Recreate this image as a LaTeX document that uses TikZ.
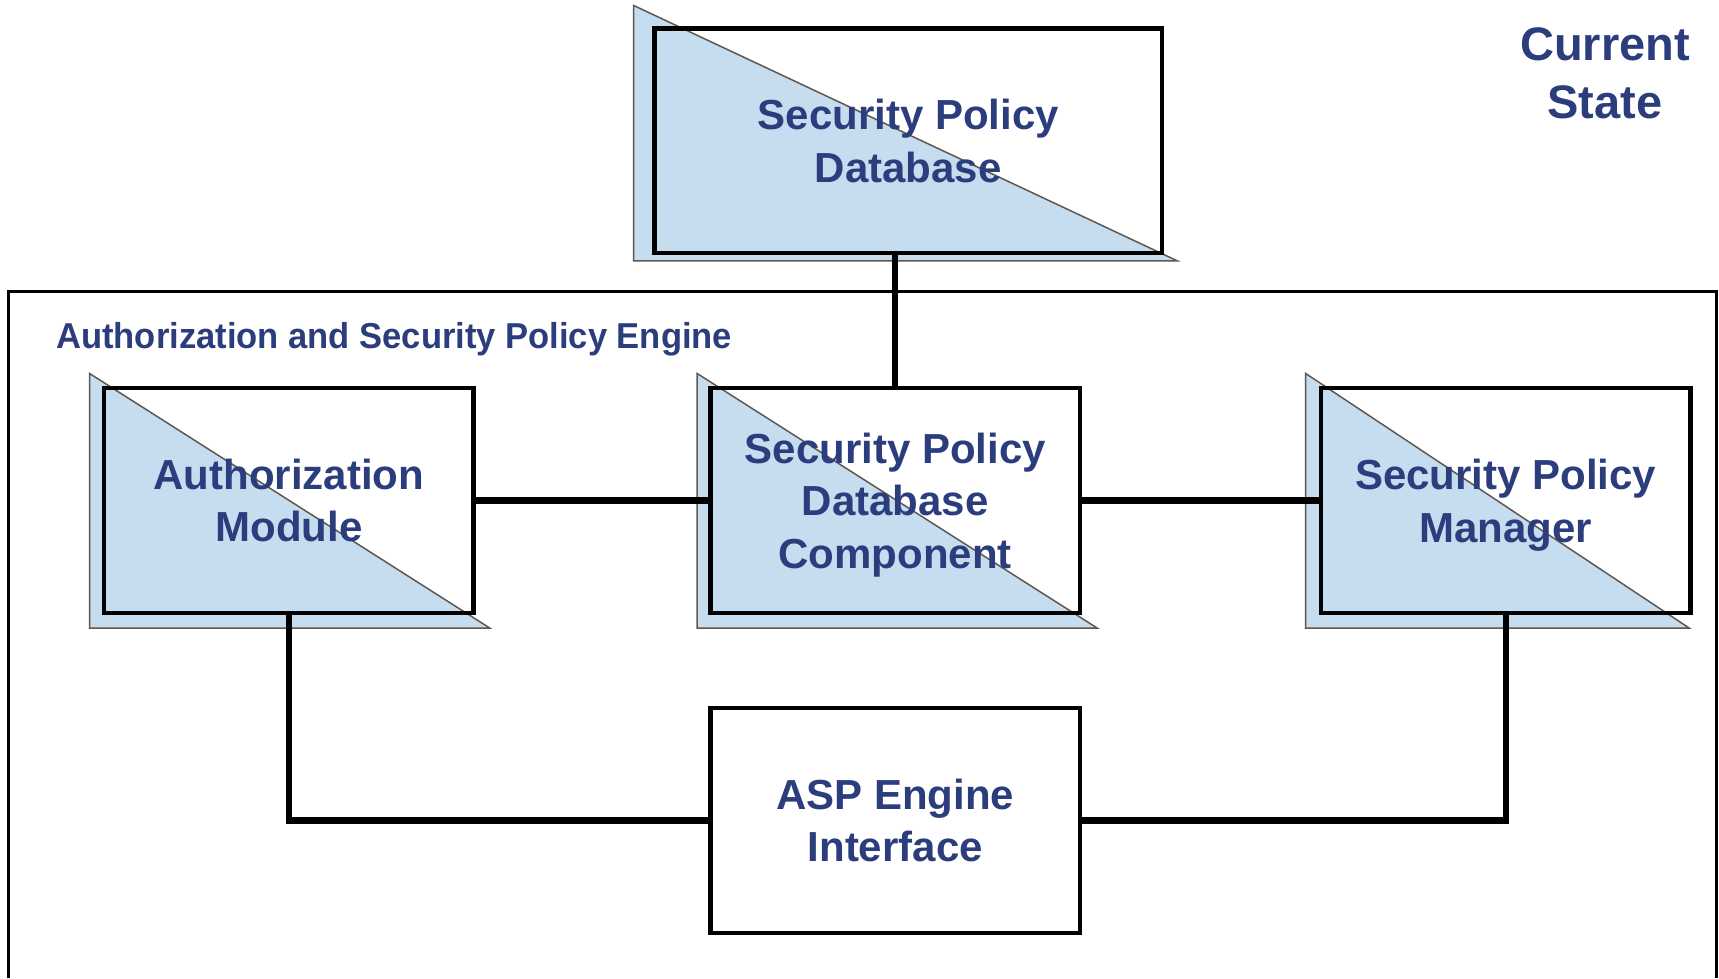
\documentclass[tikz,border=0pt]{standalone}
\usepackage{fontspec}
\setmainfont{Liberation Sans}
\usetikzlibrary{calc}
\definecolor{txtblue}{RGB}{43,61,124}
\definecolor{shadefill}{RGB}{198,220,239}
\definecolor{shadeline}{RGB}{95,88,80}
\newcommand{\nodepth}[1]{\raisebox{0pt}[\height][0pt]{#1}}
\begin{document}
\begin{tikzpicture}[x=1pt,y=-1pt,
  box/.style={draw=black, line width=4.4pt, rectangle, inner sep=0pt,
    minimum width=369.5pt, minimum height=224.7pt, align=center,
    text=txtblue, font=\fontsize{42}{52.6}\selectfont\bfseries},
  tri/.style={fill=shadefill, draw=shadeline, line width=1.5pt, line join=miter},
  wire/.style={draw=black, line width=6.5pt},
  frame/.style={draw=black, line width=3.3pt},
  title/.style={text=txtblue, inner sep=0pt, align=center}]
\useasboundingbox (0,0) rectangle (1719,978);
% outer engine frame
\draw[frame] (8.8,978) -- (8.8,291.6) -- (1716.8,291.6) -- (1716.8,978);
\node[title, anchor=west, font=\fontsize{36}{40}\selectfont\bfseries] (eng) at (56,339)
  {\addfontfeature{FakeStretch=0.96}Authorization and Security Policy Engine};
\node[title, font=\fontsize{47}{58}\selectfont\bfseries] (cs) at (1605,73) {Current\\State};
% shadows
\fill[tri] (633.7,5.5) -- (633.7,260.9) -- (1177.4,260.9) -- cycle;
\fill[tri] (89.6,373.5) -- (89.6,628.2) -- (490,628.2) -- cycle;
\fill[tri] (697.2,373.5) -- (697.2,628.2) -- (1097.4,628.2) -- cycle;
\fill[tri] (1305.7,373.5) -- (1305.7,628.2) -- (1689.4,628.2) -- cycle;
% boxes
\node[box, minimum width=507.5pt] (db) at (908.3,140.9) {Security Policy\\Database};
\node[box] (am) at (288.9,500.5) {Authorization\\Module};
\node[box] (spdc) at (895.2,500.5) {Security Policy\\Database\\\nodepth{Component}};
\node[box] (spm) at (1505.8,500.5) {Security Policy\\\nodepth{Manager}};
\node[box] (asp) at (895.2,820.6) {ASP Engine\\Interface};
% connectors
\draw[wire] (spdc.north) -- (spdc.north |- db.south);
\draw[wire] (am.east) -- (spdc.west);
\draw[wire] (spdc.east) -- (spm.west);
\draw[wire] (am.south) |- (asp.west);
\draw[wire] (spm.south) |- (asp.east);
\end{tikzpicture}
\end{document}
